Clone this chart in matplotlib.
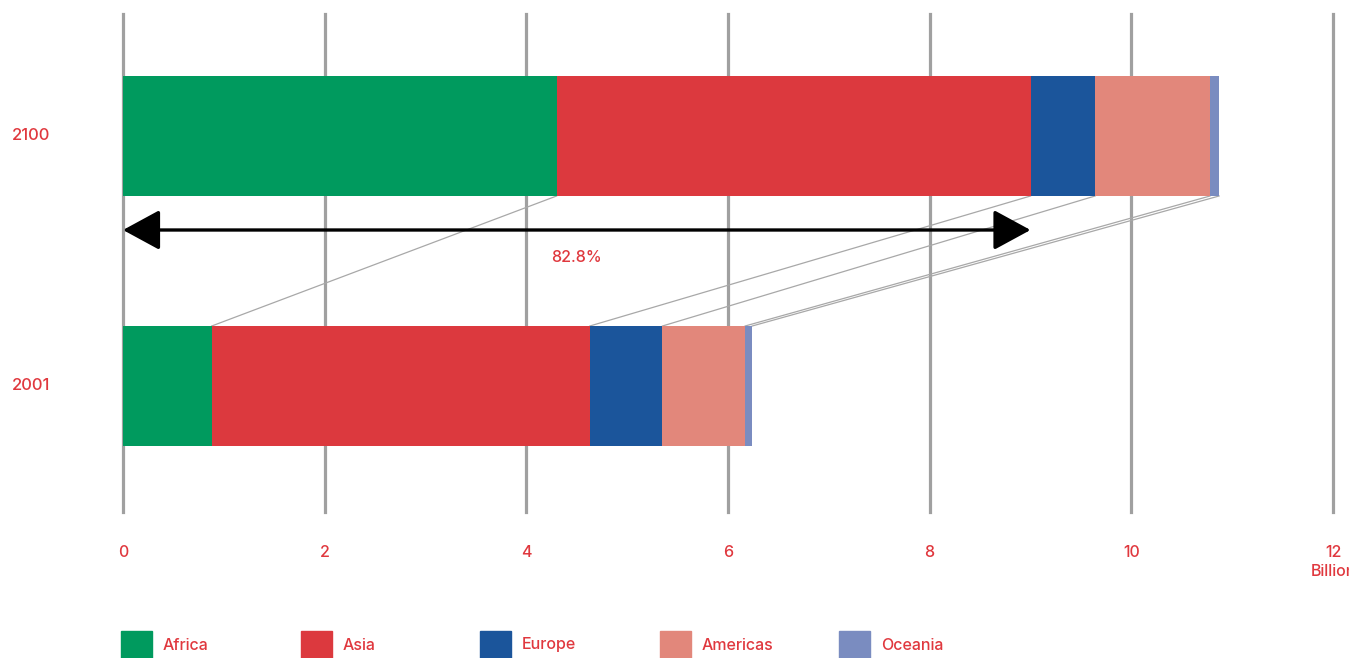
import matplotlib.pyplot as plt
import numpy as np
from matplotlib.patches import FancyArrowPatch, Rectangle
from matplotlib.transforms import blended_transform_factory

plt.rcParams['font.family'] = ['Inter', 'DejaVu Sans']
plt.rcParams['font.weight'] = 'medium'

years = ['2001', '2100']
regions = ['Africa', 'Asia', 'Europe', 'Americas', 'Oceania']
colors = ['#009a5e', '#dc393e', '#1b559b', '#e2877b', '#7a8cc0']
pop_2001 = [0.88, 3.75, 0.72, 0.82, 0.07]
pop_2100 = [4.30, 4.70, 0.64, 1.14, 0.09]
xticks = [0, 2, 4, 6, 8, 10, 12]
share_label = '82.8%'
red = '#e0383e'

fig = plt.figure(figsize=(13.49, 6.58), dpi=100)
ax = fig.add_axes([123 / 1349, 146 / 658, 1210 / 1349, 498 / 658])

bar_h = 0.48
data = [pop_2001, pop_2100]
for yi, vals in enumerate(data):
    left = 0
    for v, c in zip(vals, colors):
        ax.barh(yi, v, left=left, height=bar_h, color=c, zorder=3)
        left += v

# connecting lines between segment ends
cum01 = np.cumsum(pop_2001)
cum21 = np.cumsum(pop_2100)
for a, b in zip(cum21, cum01):
    ax.plot([a, b], [1 - bar_h / 2, bar_h / 2], color='#a8a8a8', lw=0.9, zorder=2)

# arrow spanning Africa + Asia in 2100
arrow_end = cum21[1]
arr = FancyArrowPatch((0, 0.624), (arrow_end, 0.624),
                      arrowstyle='<|-|>,head_length=23,head_width=12.5',
                      mutation_scale=1, shrinkA=0, shrinkB=0,
                      color='black', lw=2.4, zorder=4)
ax.add_patch(arr)
ax.text(arrow_end / 2, 0.512, share_label, color=red, fontsize=11.5,
        ha='center', va='center', zorder=4)

ax.set_xlim(0, 12)
ax.set_ylim(-0.504, 1.488)
ax.set_xticks(xticks)
ax.set_xticklabels([str(t) for t in xticks])
ax.tick_params(axis='x', length=0, pad=24, labelcolor=red, labelsize=11.5)
ax.set_yticks([])
for s in ax.spines.values():
    s.set_visible(False)
ax.grid(axis='x', color='#a0a0a0', lw=2.3, zorder=0)
for gl in ax.get_xgridlines():
    gl.set_clip_on(False)
ax.set_axisbelow(True)

ax.text(12, -0.504 - 60 / 250, 'Billion', color=red, fontsize=11.5,
        ha='center', va='center')

trans = blended_transform_factory(fig.transFigure, ax.transData)
for yi, yr in enumerate(years):
    ax.text(12 / 1349, yi, yr, color=red, fontsize=12, ha='left',
            va='center', transform=trans)

# legend
for i, (r, c) in enumerate(zip(regions, colors)):
    x0 = (121 + 179.5 * i) / 1349
    fig.patches.append(Rectangle((x0, 0), 31 / 1349, 27 / 658, color=c,
                                 transform=fig.transFigure, figure=fig))
    fig.text(x0 + 42 / 1349, 13 / 658, r, color=red, fontsize=11.5,
             ha='left', va='center')

fig.savefig('out.png', dpi=100)
